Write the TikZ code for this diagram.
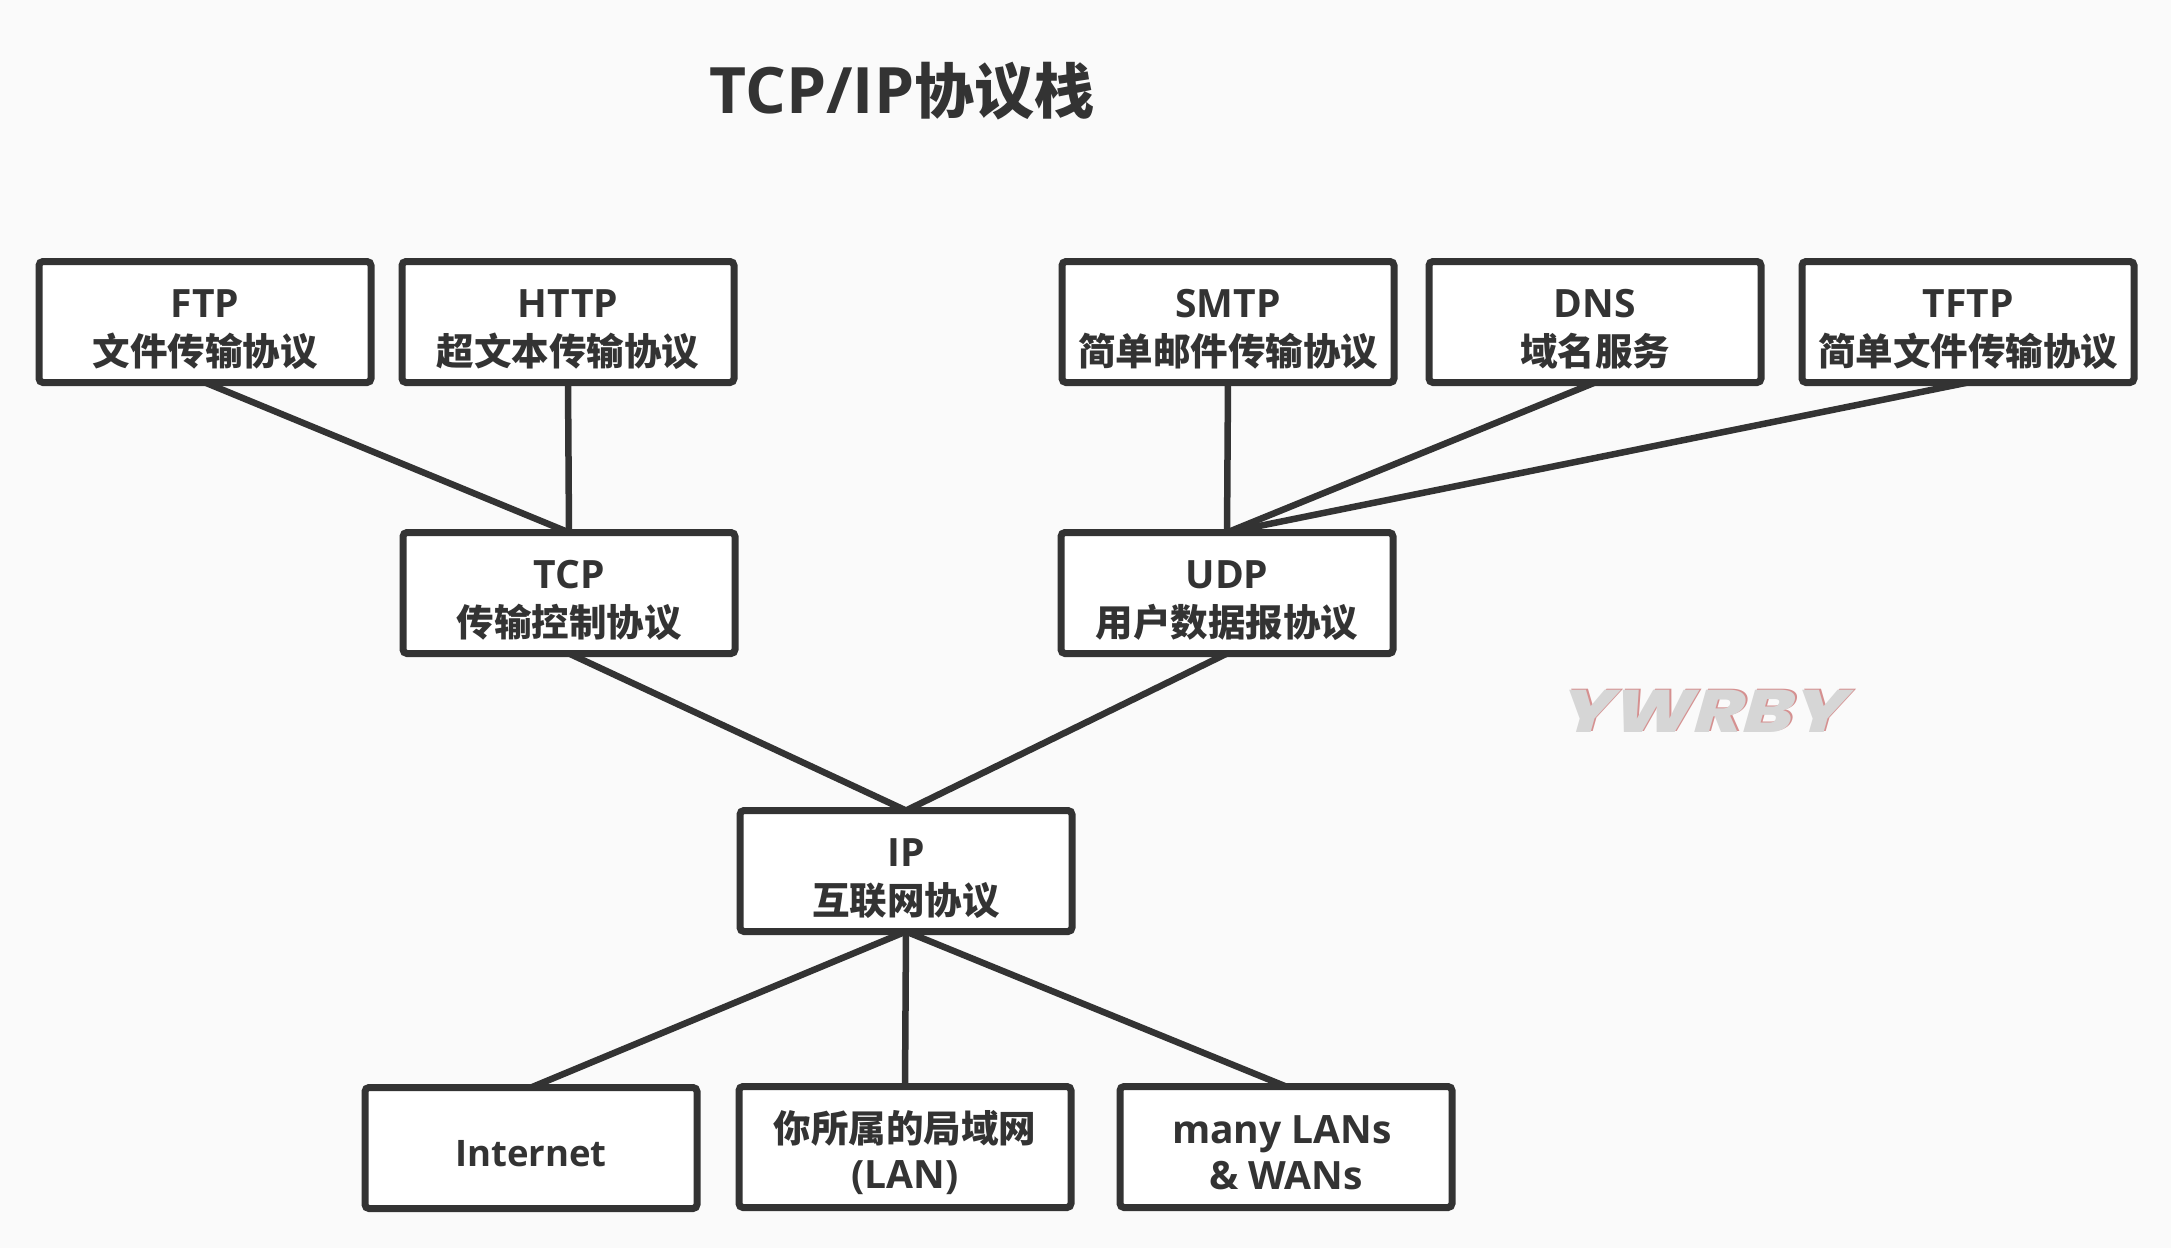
\documentclass[tikz,border=0pt]{standalone}
\usepackage{fontspec}
\setmainfont{Open Sans}
\newfontfamily\cjk{Noto Sans CJK SC}
\newfontfamily\wmfont[UprightFont=* ExtraBold,FakeStretch=1.25,FakeSlant=0.28]{Poppins}
\newcommand{\zh}[1]{{\fontsize{37.5}{48}\selectfont\cjk\bfseries #1}}
\definecolor{ink}{HTML}{333333}
\definecolor{paper}{HTML}{FAFAFA}
\tikzset{
  proto/.style={draw=ink,line width=7pt,fill=white,rounded corners=4pt,minimum width=332pt,minimum height=121pt,
    inner sep=0pt,outer sep=0pt},
  prototext/.style={inner sep=0pt,outer sep=0pt,yshift=-7.5pt,align=center,text=ink,font=\fontsize{39}{48}\selectfont\bfseries},
  txt/.style={label={[prototext]center:{#1}}},
  txtlow/.style={label={[prototext,yshift=2pt]center:{#1}}},
  wire/.style={draw=ink,line width=6.5pt},
  wm/.style={font=\fontsize{60}{60}\selectfont\wmfont}
}
\begin{document}
\begin{tikzpicture}[x=1pt,y=-1pt]
\fill[paper] (0,0) rectangle (2171,1248);
\useasboundingbox (0,0) rectangle (2171,1248);
\node[text=ink,font=\fontsize{64}{70}\selectfont\bfseries] (title) at (902,91) {TCP/IP{\fontsize{60}{70}\selectfont\cjk\bfseries 协议栈}};
\node[proto,txt={FTP\\\zh{文件传输协议}}] (ftp) at (205,322) {};
\node[proto,txt={HTTP\\\zh{超文本传输协议}}] (http) at (568,322) {};
\node[proto,txt={SMTP\\\zh{简单邮件传输协议}}] (smtp) at (1228,322) {};
\node[proto,txt={DNS\\\zh{域名服务}}] (dns) at (1595,322) {};
\node[proto,txt={TFTP\\\zh{简单文件传输协议}}] (tftp) at (1968,322) {};
\node[proto,txt={TCP\\\zh{传输控制协议}}] (tcp) at (569,593) {};
\node[proto,txt={UDP\\\zh{用户数据报协议}}] (udp) at (1227,593) {};
\node[proto,txt={IP\\\zh{互联网协议}}] (ip) at (906,871) {};
\node[proto,txtlow={\fontsize{36.5}{48}\selectfont Internet}] (inet) at (531,1148) {};
\node[proto,txtlow={\zh{你所属的局域网}\\[-2pt](LAN)}] (lan) at (905,1147) {};
\node[proto,txtlow={many LANs\hspace*{8pt}\\[-1.5pt]\& WANs}] (wan) at (1286,1147) {};
\draw[wire] (ftp.south) -- (tcp.north);
\draw[wire] (http.south) -- (tcp.north);
\draw[wire] (smtp.south) -- (udp.north);
\draw[wire] (dns.south) -- (udp.north);
\draw[wire] (tftp.south) -- (udp.north);
\draw[wire] (tcp.south) -- (ip.north);
\draw[wire] (udp.south) -- (ip.north);
\draw[wire] (ip.south) -- (inet.north);
\draw[wire] (ip.south) -- (lan.north);
\draw[wire] (ip.south) -- (wan.north);
\node[wm,text=red!45!gray!60] (wmb) at (1702,710) {YWRBY};
\node[wm,text=black!16] (wmt) at (1700,711.5) {YWRBY};
\end{tikzpicture}
\end{document}
